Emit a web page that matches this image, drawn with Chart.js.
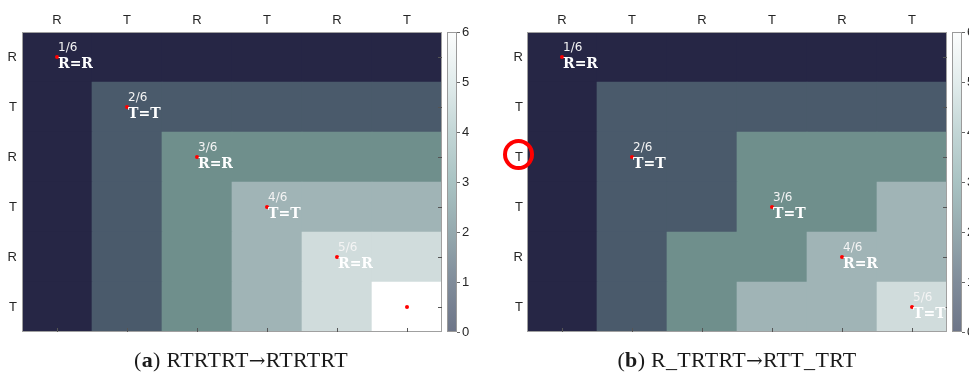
<!DOCTYPE html>
<html>
<head>
<meta charset="utf-8">
<script src="https://cdn.jsdelivr.net/npm/chart.js@4.4.1/dist/chart.umd.min.js"></script>
<style>
  body { margin: 0; background: #fff; width: 969px; height: 374px; position: relative; overflow: hidden; }
  canvas { position: absolute; top: 0; }
  #chartA { left: 0; }
  #chartB { left: 480px; }
  .caption {
    position: absolute; top: 348px; line-height: 24px;
    font-family: "Liberation Serif", serif; font-size: 22px; letter-spacing: 0.3px; color: #1a1a1a;
    white-space: nowrap; transform: translateX(-50%);
  }
  .caption .arr { font-family: "DejaVu Serif", serif; font-size: 20px; }
</style>
</head>
<body>
<canvas id="chartA" width="480" height="374"></canvas>
<canvas id="chartB" width="489" height="374"></canvas>
<div class="caption" style="left:241px">(<b>a</b>) RTRTRT<span class="arr">→</span>RTRTRT</div>
<div class="caption" style="left:737px">(<b>b</b>) R_TRTRT<span class="arr">→</span>RTT_TRT</div>
<script>
// categorias de columnas y filas
const colLabels = ["R", "T", "R", "T", "R", "T"];
const rowLabelsA = ["R", "T", "R", "T", "R", "T"];
const rowLabelsB = ["R", "T", "T", "T", "R", "T"];

// puntuaciones de cada celda (fila x columna)
const scoresA = [
  [0, 0, 0, 0, 0, 0],
  [0, 1, 1, 1, 1, 1],
  [0, 1, 2, 2, 2, 2],
  [0, 1, 2, 3, 3, 3],
  [0, 1, 2, 3, 4, 4],
  [0, 1, 2, 3, 4, 5],
];
const scoresB = [
  [0, 0, 0, 0, 0, 0],
  [0, 1, 1, 1, 1, 1],
  [0, 1, 1, 2, 2, 2],
  [0, 1, 1, 2, 2, 3],
  [0, 1, 2, 2, 3, 3],
  [0, 1, 2, 3, 3, 4],
];

// camino de coincidencias: [fila, columna]
const pathA = [[0, 0], [1, 1], [2, 2], [3, 3], [4, 4], [5, 5]];
const pathB = [[0, 0], [2, 1], [3, 3], [4, 4], [5, 5]];
const fracA = ["1/6", "2/6", "3/6", "4/6", "5/6", ""];
const matchA = ["R=R", "T=T", "R=R", "T=T", "R=R", ""];
const fracB = ["1/6", "2/6", "3/6", "4/6", "5/6"];
const matchB = ["R=R", "T=T", "T=T", "R=R", "T=T"];

const colorbarTicks = [0, 1, 2, 3, 4, 5, 6];

const palette = ["#262645", "#4a5a6b", "#6f8f8c", "#a0b4b6", "#d0dcdc", "#ffffff"];
const gridColor = "rgba(128, 128, 128, 0.2)";
const tickFont = { family: "Liberation Sans", size: 13 };

function cellData(scores) {
  const data = [];
  const colors = [];
  scores.forEach((row, i) => {
    row.forEach((v, j) => {
      data.push({ x: j, y: [i - 0.5, i + 0.5] });
      colors.push(palette[v]);
    });
  });
  return { data, colors };
}

// plugin: marco, marcas, barra de color y anotaciones
const decorPlugin = {
  id: "decor",
  afterDraw(chart, args, opts) {
    const { ctx, chartArea: a, scales } = chart;
    ctx.save();
    // marco del area
    ctx.strokeStyle = "#a0a0a0";
    ctx.lineWidth = 1;
    ctx.strokeRect(a.left + 0.5, a.top + 0.5, a.right - a.left - 1, a.bottom - a.top - 1);
    // marcas en borde inferior y derecho
    ctx.strokeStyle = "#555";
    ctx.beginPath();
    colLabels.forEach((_, j) => {
      const px = Math.round(scales.x.getPixelForValue(j)) + 0.5;
      ctx.moveTo(px, a.bottom);
      ctx.lineTo(px, a.bottom - 4);
    });
    opts.rows.forEach((_, i) => {
      const py = Math.round(scales.y.getPixelForValue(i)) + 0.5;
      ctx.moveTo(a.right, py);
      ctx.lineTo(a.right - 4, py);
    });
    ctx.stroke();

    // barra de color
    const cb = scales.cb;
    const x0 = a.right + 5;
    const grad = ctx.createLinearGradient(0, cb.bottom, 0, cb.top);
    const stops = ["#6d7588", "#808c9a", "#95a9ae", "#a9c3c3", "#c3d6d6", "#e2ecec", "#fcfdfd"];
    stops.forEach((c, k) => grad.addColorStop(k / (stops.length - 1), c));
    ctx.fillStyle = grad;
    ctx.fillRect(x0, cb.top, 10, cb.bottom - cb.top);
    ctx.strokeStyle = "#9a9a9a";
    ctx.strokeRect(x0 + 0.5, cb.top + 0.5, 9, cb.bottom - cb.top - 1);
    ctx.strokeStyle = "#666";
    ctx.beginPath();
    colorbarTicks.forEach((v) => {
      const py = Math.round(cb.getPixelForValue(v)) + 0.5;
      ctx.moveTo(x0 + 10, py);
      ctx.lineTo(x0 + 13, py);
    });
    ctx.stroke();

    // anotaciones del camino
    opts.path.forEach(([r, c], k) => {
      const cx = scales.x.getPixelForValue(c);
      const cy = scales.y.getPixelForValue(r);
      ctx.textAlign = "left";
      ctx.textBaseline = "alphabetic";
      ctx.fillStyle = "#f4f4f4";
      ctx.font = "12px 'DejaVu Sans'";
      ctx.fillText(opts.fracs[k], cx + 1, cy - 6);
      ctx.fillStyle = "#ffffff";
      ctx.font = "bold 14px 'DejaVu Serif'";
      ctx.fillText(opts.matches[k], cx + 1, cy + 11);
    });

    // circulo rojo de resaltado
    if (opts.highlightRow !== undefined) {
      ctx.strokeStyle = "#ff0000";
      ctx.lineWidth = 4;
      ctx.beginPath();
      ctx.arc(a.left - 8.5, scales.y.getPixelForValue(opts.highlightRow) - 2.5, 13.5, 0, Math.PI * 2);
      ctx.stroke();
    }
    ctx.restore();
  },
};

function makeChart(id, rows, scores, path, fracs, matches, dims) {
  const cells = cellData(scores);
  const dots = path.map(([r, c]) => ({ x: c, y: r }));
  return new Chart(document.getElementById(id), {
    type: "bar",
    data: {
      datasets: [
        {
          type: "scatter",
          data: dots,
          backgroundColor: "#ff0000",
          borderWidth: 0,
          pointRadius: 2,
          order: 1,
        },
        {
          data: cells.data,
          backgroundColor: cells.colors,
          borderWidth: 0,
          barPercentage: 1,
          categoryPercentage: 1,
          grouped: false,
          order: 2,
        },
      ],
    },
    options: {
      responsive: false,
      animation: false,
      events: [],
      layout: { padding: { top: 0, bottom: 42, left: 0, right: 0 } },
      plugins: {
        legend: { display: false },
        tooltip: { enabled: false },
        decor: { rows, path, fracs, matches, highlightRow: dims.highlightRow },
      },
      scales: {
        x: {
          type: "linear",
          position: "top",
          min: -0.5,
          max: 5.5,
          offset: false,
          z: 1,
          afterBuildTicks: (s) => { s.ticks = colLabels.map((_, j) => ({ value: j })); },
          afterFit: (s) => { s.height = 32; },
          ticks: {
            callback: (v) => colLabels[v],
            color: "#262626",
            font: tickFont,
            padding: 4,
            maxRotation: 0,
            autoSkip: false,
          },
          grid: { color: gridColor, drawTicks: false, offset: false },
          border: { display: false },
        },
        y: {
          type: "linear",
          position: "left",
          min: -0.5,
          max: 5.5,
          reverse: true,
          z: 1,
          afterBuildTicks: (s) => { s.ticks = rows.map((_, i) => ({ value: i })); },
          afterFit: (s) => { s.width = dims.yWidth; },
          ticks: {
            callback: (v) => rows[v],
            color: "#262626",
            font: tickFont,
            padding: dims.yPad,
            autoSkip: false,
          },
          grid: { color: gridColor, drawTicks: false },
          border: { display: false },
        },
        cb: {
          type: "linear",
          position: "right",
          min: 0,
          max: 6,
          afterBuildTicks: (s) => { s.ticks = colorbarTicks.map((v) => ({ value: v })); },
          afterFit: (s) => { s.width = dims.cbWidth; },
          ticks: { color: "#262626", font: tickFont, padding: 20, autoSkip: false },
          grid: { display: false, drawTicks: false },
          border: { display: false },
        },
      },
    },
    plugins: [decorPlugin],
  });
}

makeChart("chartA", rowLabelsA, scoresA, pathA, fracA, matchA, { yWidth: 22, yPad: 5, cbWidth: 38 });
makeChart("chartB", rowLabelsB, scoresB, pathB, fracB, matchB, { yWidth: 47, yPad: 4, cbWidth: 22, highlightRow: 2 });
</script>
</body>
</html>
